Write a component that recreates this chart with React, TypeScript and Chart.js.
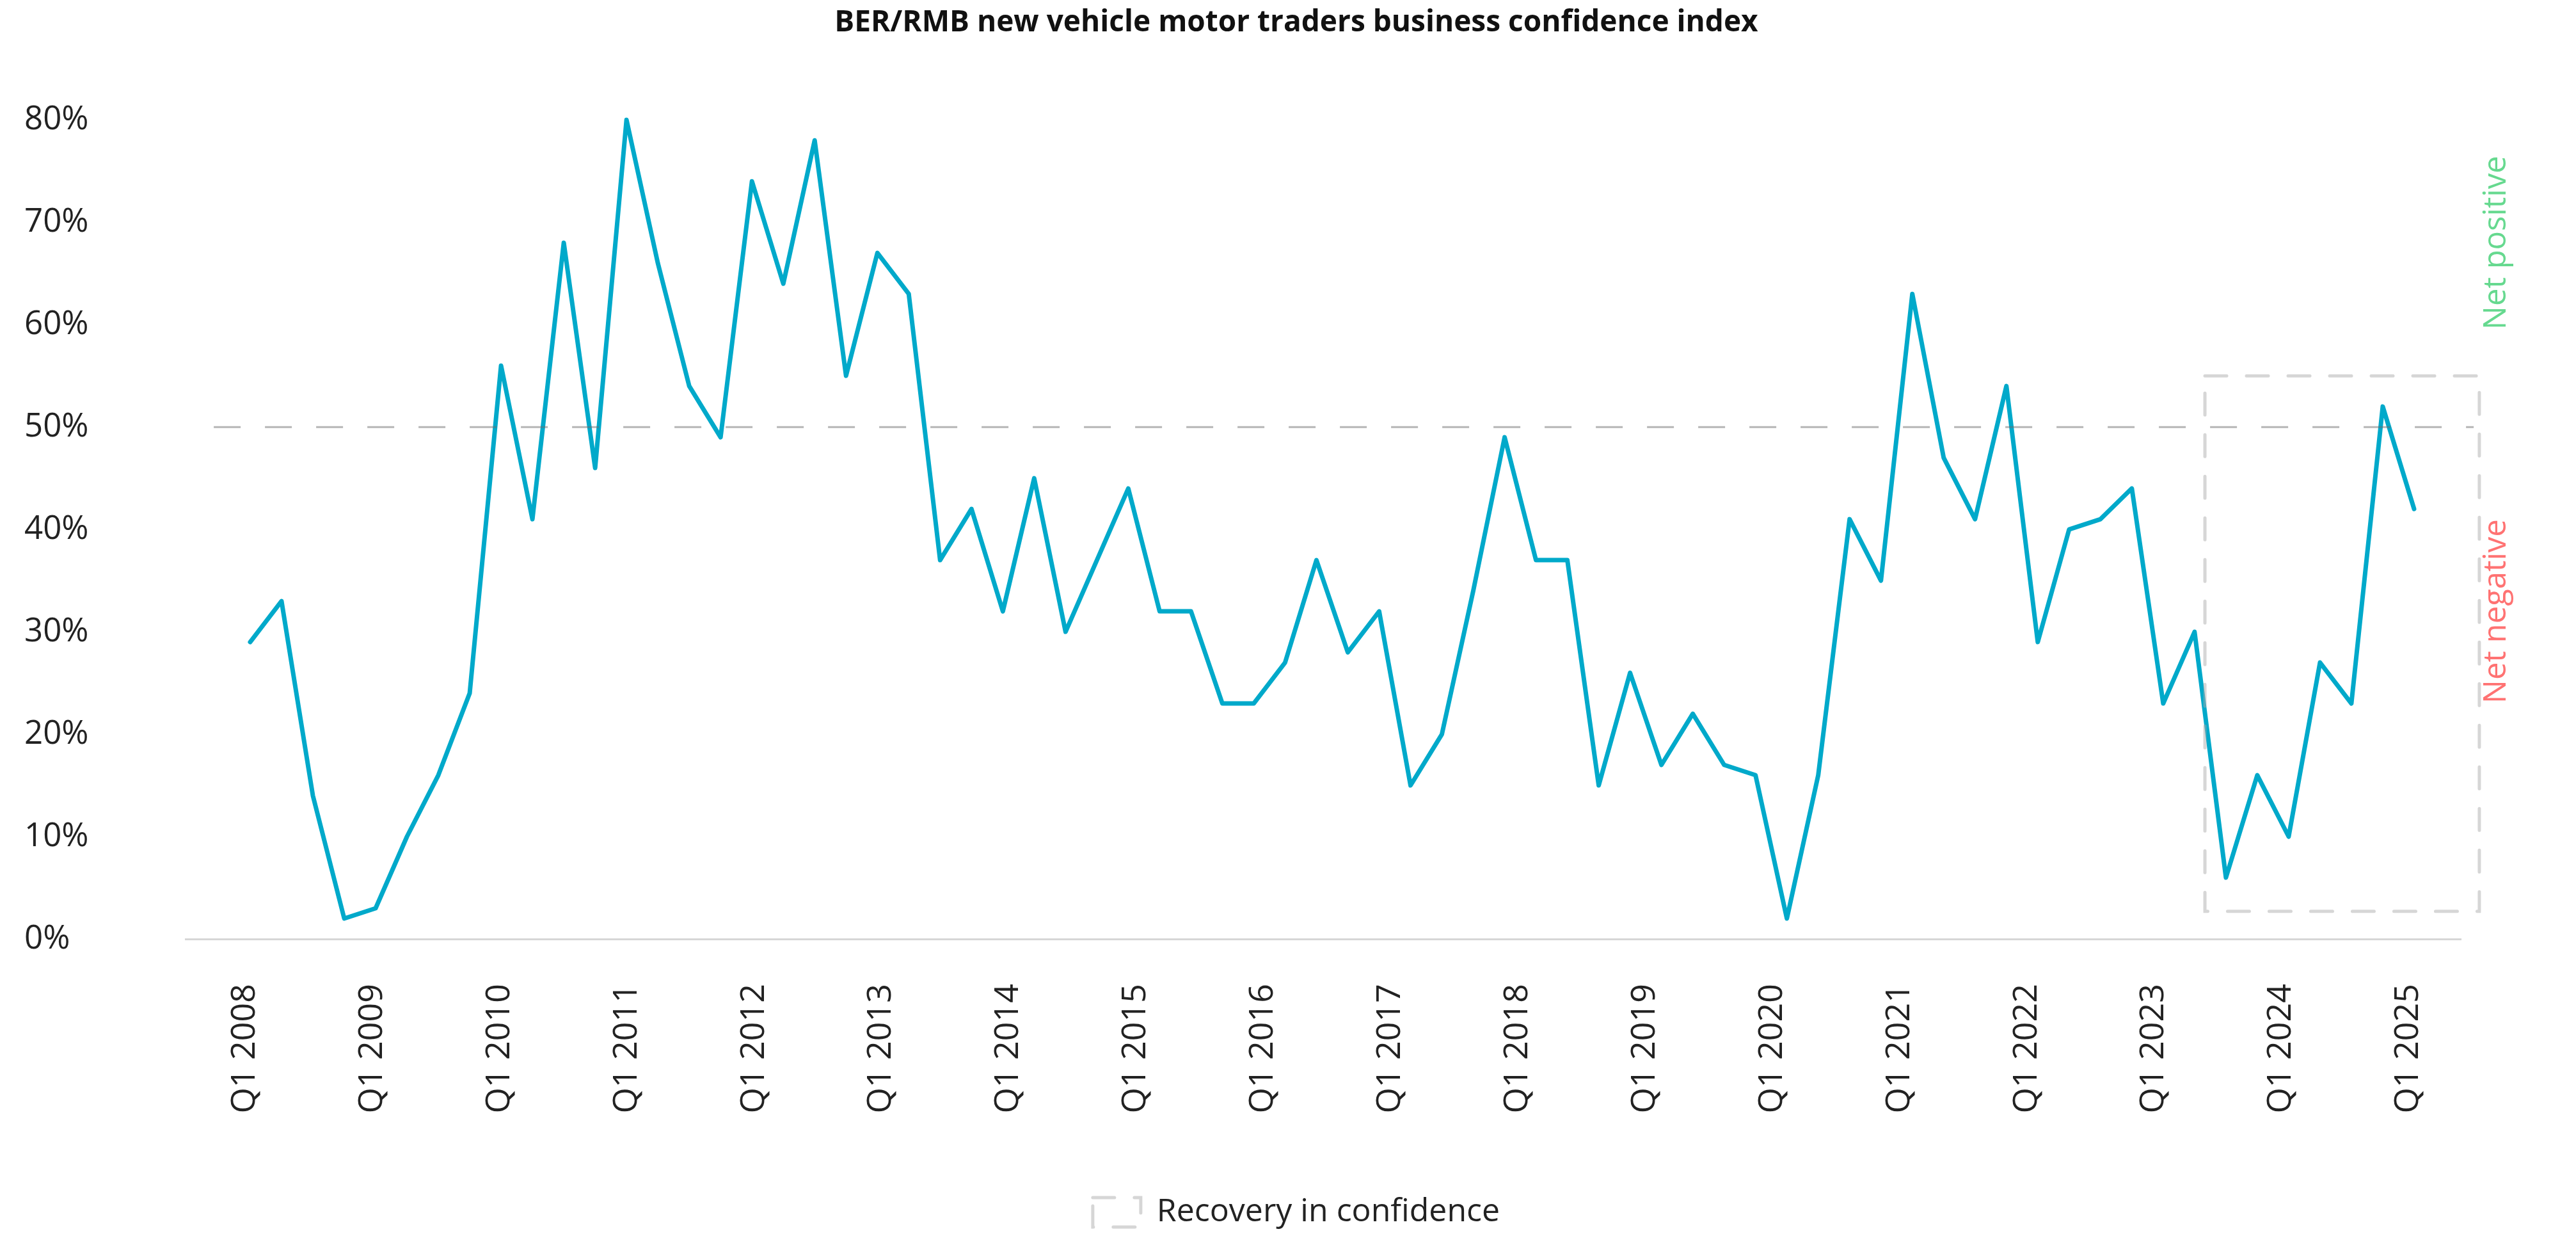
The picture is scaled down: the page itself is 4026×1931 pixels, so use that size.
import React, { useEffect, useRef } from "react";
import { Chart, registerables } from "chart.js";

Chart.register(...registerables);

const FONT = "'Open Sans', sans-serif";

// Quarter categories (one per data point)
const quarters = [
  "Q1 2008", "Q2 2008", "Q3 2008", "Q4 2008",
  "Q1 2009", "Q2 2009", "Q3 2009", "Q4 2009",
  "Q1 2010", "Q2 2010", "Q3 2010", "Q4 2010",
  "Q1 2011", "Q2 2011", "Q3 2011", "Q4 2011",
  "Q1 2012", "Q2 2012", "Q3 2012", "Q4 2012",
  "Q1 2013", "Q2 2013", "Q3 2013", "Q4 2013",
  "Q1 2014", "Q2 2014", "Q3 2014", "Q4 2014",
  "Q1 2015", "Q2 2015", "Q3 2015", "Q4 2015",
  "Q1 2016", "Q2 2016", "Q3 2016", "Q4 2016",
  "Q1 2017", "Q2 2017", "Q3 2017", "Q4 2017",
  "Q1 2018", "Q2 2018", "Q3 2018", "Q4 2018",
  "Q1 2019", "Q2 2019", "Q3 2019", "Q4 2019",
  "Q1 2020", "Q2 2020", "Q3 2020", "Q4 2020",
  "Q1 2021", "Q2 2021", "Q3 2021", "Q4 2021",
  "Q1 2022", "Q2 2022", "Q3 2022", "Q4 2022",
  "Q1 2023", "Q2 2023", "Q3 2023", "Q4 2023",
  "Q1 2024", "Q2 2024", "Q3 2024", "Q4 2024",
  "Q1 2025", "Q2 2025",
];

// Business confidence index (%)
const confidence = [
  29, 33, 14, 2,
  3, 10, 16, 24,
  56, 41, 68, 46,
  80, 66, 54, 49,
  74, 64, 78, 55,
  67, 63, 37, 42,
  32, 45, 30, 37,
  44, 32, 32, 23,
  23, 27, 37, 28,
  32, 15, 20, 34,
  49, 37, 37, 15,
  26, 17, 22, 17,
  16, 2, 16, 41,
  35, 63, 47, 41,
  54, 29, 40, 41,
  44, 23, 30, 6,
  16, 10, 27, 23,
  52, 42,
];

// Axis tick labels (one per year, Q1)
const tickLabels = [
  "Q1 2008", "Q1 2009", "Q1 2010", "Q1 2011", "Q1 2012", "Q1 2013",
  "Q1 2014", "Q1 2015", "Q1 2016", "Q1 2017", "Q1 2018", "Q1 2019",
  "Q1 2020", "Q1 2021", "Q1 2022", "Q1 2023", "Q1 2024", "Q1 2025",
];
// label spacing in the source is slightly wider than 4 quarters
const tickStart = -0.16;
const tickStep = 4.058;
const yTicks = [0, 10, 20, 30, 40, 50, 60, 70, 80];

// Annotations
const threshold = 50;
const thresholdSpan = [-1.16, 70.9];
const recoveryFrom = 62.33;
const recoveryTo = 71.08;
const recoveryLow = 2.7;
const recoveryHigh = 55;
const sideLabels = [
  { text: "Net positive", value: 68, color: "#66d98f" },
  { text: "Net negative", value: 32, color: "#ff7272" },
];

const TITLE = "BER/RMB new vehicle motor traders business confidence index";

const sidePlugin = {
  id: "sideLabels",
  afterDraw(chart: any) {
    const { ctx, chartArea } = chart;
    const y = chart.scales.y;
    ctx.save();
    ctx.font = `400 49px ${FONT}`;
    ctx.textAlign = "center";
    ctx.textBaseline = "middle";
    for (const s of sideLabels) {
      ctx.save();
      ctx.translate(chartArea.right + 56, y.getPixelForValue(s.value));
      ctx.rotate(-Math.PI / 2);
      ctx.fillStyle = s.color;
      ctx.fillText(s.text, 0, 0);
      ctx.restore();
    }
    ctx.restore();
  },
};

export default function App() {
  const ref = useRef<HTMLCanvasElement | null>(null);

  useEffect(() => {
    if (!ref.current) return;
    const chart = new Chart(ref.current, {
      type: "line",
      data: {
        datasets: [
          {
            label: "Recovery in confidence",
            data: [
              { x: recoveryFrom, y: recoveryHigh },
              { x: recoveryTo, y: recoveryHigh },
              { x: recoveryTo, y: recoveryLow },
              { x: recoveryFrom, y: recoveryLow },
              { x: recoveryFrom, y: recoveryHigh },
            ],
            borderColor: "rgba(170,170,170,0.48)",
            backgroundColor: "rgba(255,255,255,0)",
            borderWidth: 5,
            borderDash: [34, 31],
            borderCapStyle: "round",
            pointRadius: 0,
            fill: false,
            clip: false,
            order: 0,
          },
          {
            label: "threshold",
            data: [
              { x: thresholdSpan[0], y: threshold },
              { x: thresholdSpan[1], y: threshold },
            ],
            borderColor: "rgba(110,110,110,0.5)",
            borderWidth: 3,
            borderDash: [42, 38],
            pointRadius: 0,
            fill: false,
            clip: false,
            order: 1,
          },
          {
            label: "Confidence",
            data: confidence.map((v, i) => ({ x: i, y: v })),
            borderColor: "#00a9ca",
            borderWidth: 7,
            borderJoinStyle: "round",
            borderCapStyle: "round",
            pointRadius: 0,
            tension: 0,
            fill: false,
            clip: false,
            order: 2,
          },
        ],
      },
      options: {
        responsive: false,
        animation: false,
        devicePixelRatio: 1,
        layout: { padding: { left: 38, right: 12, top: 0, bottom: 2 } },
        plugins: {
          title: {
            display: true,
            text: TITLE,
            color: "#111",
            font: { family: FONT, size: 46, weight: "bold" },
            padding: { top: 8, bottom: 124 },
          },
          legend: {
            position: "bottom",
            labels: {
              filter: (item: any) => item.datasetIndex === 0,
              boxWidth: 75,
              boxHeight: 46,
              padding: 10,
              color: "#222",
              font: { family: FONT, size: 50 },
            },
          },
          tooltip: { enabled: false },
        },
        scales: {
          x: {
            type: "linear",
            min: -2.06,
            max: 70.49,
            grid: { display: false },
            border: { display: true, color: "#d6d6d6", width: 3 },
            afterBuildTicks: (s: any) => {
              s.ticks = tickLabels.map((_, k) => ({ value: tickStart + k * tickStep }));
            },
            afterFit: (s: any) => {
              s.height = 392;
            },
            ticks: {
              autoSkip: false,
              minRotation: 90,
              maxRotation: 90,
              padding: 62,
              color: "#222",
              font: { family: FONT, size: 52 },
              callback: (_v: any, i: number) => tickLabels[i] ?? "",
            },
          },
          y: {
            type: "linear",
            position: "left",
            min: yTicks[0],
            max: yTicks[yTicks.length - 1],
            grid: { display: false },
            border: { display: false },
            afterBuildTicks: (s: any) => {
              s.ticks = yTicks.map((v) => ({ value: v }));
            },
            afterFit: (s: any) => {
              s.width = 252;
            },
            ticks: {
              crossAlign: "far",
              color: "#222",
              font: { family: FONT, size: 51 },
              callback: (v: any) => `${v}%`,
            },
          },
          yRight: {
            type: "linear",
            position: "right",
            display: true,
            min: yTicks[0],
            max: yTicks[yTicks.length - 1],
            grid: { display: false },
            border: { display: false },
            ticks: { display: false },
            afterFit: (s: any) => {
              s.width = 168;
            },
          },
        },
      },
      plugins: [sidePlugin],
    } as any);
    return () => chart.destroy();
  }, []);

  return (
    <div style={{ position: "fixed", left: 0, top: 0, width: 4026, height: 1931, background: "#fff" }}>
      <canvas ref={ref} width={4026} height={1931} style={{ display: "block" }} />
    </div>
  );
}
